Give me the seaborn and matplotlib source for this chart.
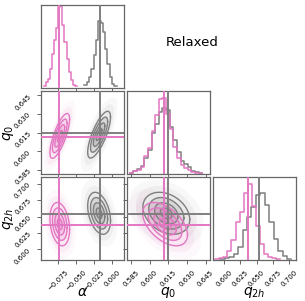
import numpy as np
import matplotlib
matplotlib.use("Agg")
import matplotlib.pyplot as plt
import seaborn as sns

# parameters of the corner plot
labels = [r"$\alpha$", r"$q_0$", r"$q_{2h}$"]
axis_ranges = [(-0.099, 0.0157), (0.582, 0.6485), (0.5838, 0.710)]
axis_ticks = [
    [-0.075, -0.050, -0.025, 0.000],
    [0.585, 0.600, 0.615, 0.630, 0.645],
    [0.600, 0.625, 0.650, 0.675, 0.700],
]

# 1D histograms (bin start, bin width, counts)
alpha_pink_start, alpha_pink_width = -0.0955, 0.0029
alpha_pink_counts = [5, 17, 27, 57, 102, 142, 177, 240, 247, 187, 137, 87, 47, 22, 9, 4]
alpha_gray_start, alpha_gray_width = -0.0391, 0.00322
alpha_gray_counts = [7, 17, 32, 57, 97, 142, 200, 192, 167, 117, 72, 32, 12, 4]

q0_pink_start, q0_pink_width = 0.5842, 0.00291
q0_pink_counts = [4, 8, 12, 22, 52, 77, 127, 177, 222, 225, 180, 135, 80, 47, 27, 18, 12, 7, 4, 2]
q0_gray_start, q0_gray_width = 0.5842, 0.00291
q0_gray_counts = [4, 10, 15, 25, 47, 72, 122, 150, 185, 196, 190, 140, 100, 65, 37, 30, 20, 10, 6, 3]

q2h_pink_start, q2h_pink_width = 0.587, 0.00617
q2h_pink_counts = [3, 5, 10, 28, 58, 113, 143, 198, 225, 160, 100, 48, 18, 8, 5, 3]
q2h_gray_start, q2h_gray_width = 0.5946, 0.00678
q2h_gray_counts = [3, 6, 8, 18, 38, 88, 128, 158, 193, 198, 163, 113, 63, 28, 13, 3]

hist_top = [247, 247, 245]

# median lines
median_pink = [-0.074, 0.612, 0.6374]
median_gray = [-0.0175, 0.6146, 0.6535]

centre_pink = [-0.073, 0.6125, 0.6385]
centre_gray = [-0.0185, 0.6135, 0.655]
spread_pink = [0.0068, 0.0090, 0.0165]
spread_gray = [0.0079, 0.0094, 0.0160]
# pairs (row, col): (1,0), (2,0), (2,1)
corr_pink = {(1, 0): 0.75, (2, 0): -0.25, (2, 1): -0.5}
corr_gray = {(1, 0): 0.75, (2, 0): -0.35, (2, 1): -0.3}

pink = "#e377c2"
gray = "#7f7f7f"

hists = {
    "pink": [(alpha_pink_start, alpha_pink_width, alpha_pink_counts),
             (q0_pink_start, q0_pink_width, q0_pink_counts),
             (q2h_pink_start, q2h_pink_width, q2h_pink_counts)],
    "gray": [(alpha_gray_start, alpha_gray_width, alpha_gray_counts),
             (q0_gray_start, q0_gray_width, q0_gray_counts),
             (q2h_gray_start, q2h_gray_width, q2h_gray_counts)],
}
models = [
    ("gray", gray, median_gray, centre_gray, spread_gray, corr_gray),
    ("pink", pink, median_pink, centre_pink, spread_pink, corr_pink),
]

fig = plt.figure(figsize=(3.05, 3.01), dpi=100)
axes = fig.subplots(3, 3, gridspec_kw=dict(left=0.1344, right=0.9705,
                                           bottom=0.1362, top=0.9834,
                                           wspace=0.04, hspace=0.04))

t = np.linspace(0, 2 * np.pi, 120)
circle = np.vstack([np.cos(t), np.sin(t)])


def ellipse(c, s, rho, i, j, k):
    cov = np.array([[s[j] ** 2, rho * s[j] * s[i]],
                    [rho * s[j] * s[i], s[i] ** 2]])
    L = np.linalg.cholesky(cov)
    pts = k * (L @ circle)
    return c[j] + pts[0], c[i] + pts[1]


for i in range(3):
    for j in range(3):
        ax = axes[i, j]
        if j > i:
            ax.axis("off")
            continue
        if i == j:
            for name, col, med, *_ in models:
                start, width, counts = hists[name][i]
                edges = start + width * np.arange(len(counts) + 1)
                centres = edges[:-1] + width / 2
                sns.histplot(x=centres, weights=np.asarray(counts, float),
                             bins=list(edges),
                             element="step", fill=False, color=col,
                             linewidth=1.1, ax=ax)
                ax.axvline(med[i], color=col, lw=1.4, zorder=5)
            ax.set_ylim(0, hist_top[i])
            ax.set_yticks([])
            ax.set_ylabel("")
        else:
            # point haze
            for name, col, med, c, s, corr in models:
                for k, a in [(3.2, 0.05), (2.6, 0.08)]:
                    x, y = ellipse(c, s, corr[(i, j)], i, j, k)
                    ax.fill(x, y, color=col, alpha=a, lw=0)
            # white mask inside outer contour
            for name, col, med, c, s, corr in models:
                x, y = ellipse(c, s, corr[(i, j)], i, j, 2.0)
                ax.fill(x, y, color="white", lw=0)
            # density shading
            for name, col, med, c, s, corr in models:
                for k in [2.0, 1.5, 1.0, 0.6, 0.3]:
                    x, y = ellipse(c, s, corr[(i, j)], i, j, k)
                    ax.fill(x, y, color=col, alpha=0.17, lw=0)
            # contour lines
            for name, col, med, c, s, corr in models:
                for k in [0.5, 1.0, 1.5, 2.0]:
                    x, y = ellipse(c, s, corr[(i, j)], i, j, k)
                    ax.plot(x, y, color=col, lw=1.0)
            for name, col, med, *_ in models:
                ax.axvline(med[j], color=col, lw=1.4, zorder=5)
                ax.axhline(med[i], color=col, lw=1.4, zorder=5)
            ax.set_ylim(axis_ranges[i])
            ax.set_yticks(axis_ticks[i])
        ax.set_xlim(axis_ranges[j])
        ax.set_xticks(axis_ticks[j])

        for sp in ax.spines.values():
            sp.set_color("0.4")
            sp.set_linewidth(0.9)
        ax.tick_params(labelsize=5, length=3, width=0.7, color="0.4",
                       direction="out")

        if i < 2:
            ax.set_xticklabels([])
        else:
            for lab in ax.get_xticklabels():
                lab.set_rotation(45)
            ax.set_xlabel(labels[j], fontsize=10)
            ax.xaxis.set_label_coords(0.5, -0.3)
        if j > 0 or i == 0:
            if i != j:
                ax.set_yticklabels([])
            ax.set_ylabel("")
        else:
            for lab in ax.get_yticklabels():
                lab.set_rotation(45)
            ax.set_ylabel(labels[i], fontsize=10)
            ax.yaxis.set_label_coords(-0.3, 0.5)

fig.text(192 / 305, 1 - 42 / 301, "Relaxed", ha="center", va="center",
         fontsize=9.5)

fig.savefig("out.png", dpi=100)
